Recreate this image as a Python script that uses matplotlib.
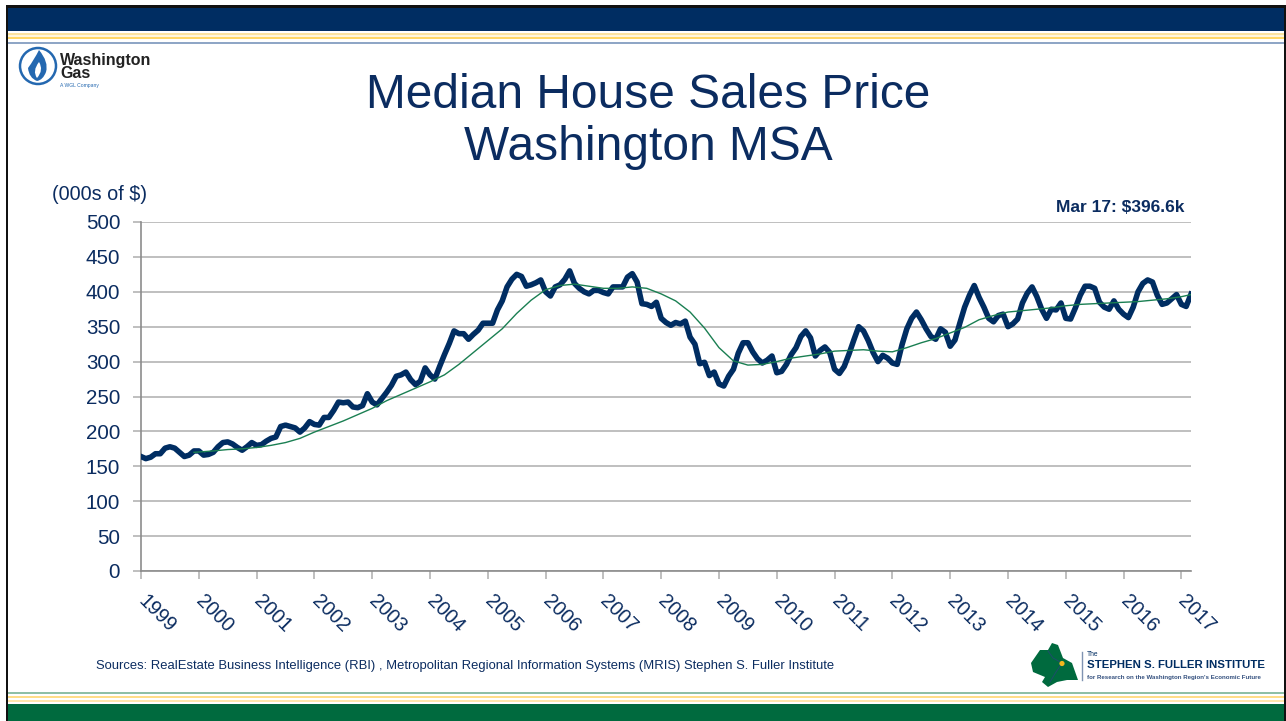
import matplotlib
matplotlib.use("Agg")
import matplotlib.pyplot as plt
import numpy as np
from matplotlib.patches import Rectangle, Polygon, Circle, PathPatch
from matplotlib.path import Path

W, H = 1286, 721
NAVY = "#002D62"
TEXT = "#0B2C60"
GREEN = "#006A3E"
plt.rcParams["font.family"] = ["Liberation Sans", "DejaVu Sans"]

years = [str(y) for y in range(1999, 2018)]
yticks = [0, 50, 100, 150, 200, 250, 300, 350, 400, 450, 500]

price_1999 = [164, 161, 163, 168, 168, 176, 178, 176, 170, 164, 166, 172]
price_2000 = [172, 166, 167, 170, 178, 184, 185, 182, 177, 173, 178, 184]
price_2001 = [180, 181, 186, 190, 192, 207, 209, 207, 205, 199, 205, 214]
price_2002 = [210, 209, 220, 220, 230, 242, 241, 242, 235, 234, 237, 254]
price_2003 = [242, 238, 247, 256, 266, 279, 281, 285, 274, 267, 272, 291]
price_2004 = [281, 275, 293, 310, 326, 344, 340, 340, 332, 339, 345, 355]
price_2005 = [355, 355, 374, 387, 407, 418, 425, 422, 408, 410, 413, 417]
price_2006 = [400, 394, 407, 410, 418, 430, 412, 405, 400, 397, 402, 402]
price_2007 = [399, 397, 407, 407, 407, 421, 426, 414, 383, 382, 379, 385]
price_2008 = [362, 356, 352, 356, 354, 358, 335, 325, 297, 299, 280, 285]
price_2009 = [268, 265, 279, 289, 312, 327, 327, 314, 304, 298, 302, 308]
price_2010 = [284, 286, 296, 310, 320, 336, 344, 334, 308, 316, 321, 313]
price_2011 = [289, 283, 293, 311, 331, 350, 344, 330, 313, 300, 309, 305]
price_2012 = [298, 296, 324, 347, 362, 371, 360, 347, 336, 332, 347, 342]
price_2013 = [322, 331, 355, 378, 395, 409, 392, 378, 362, 357, 366, 368]
price_2014 = [350, 354, 361, 384, 398, 407, 393, 375, 362, 375, 374, 384]
price_2015 = [362, 361, 377, 395, 408, 408, 405, 385, 378, 375, 387, 375]
price_2016 = [368, 363, 378, 400, 412, 417, 414, 395, 382, 384, 390, 396]
price_2017 = [382, 379, 396.6]
price = (price_1999 + price_2000 + price_2001 + price_2002 + price_2003 + price_2004
         + price_2005 + price_2006 + price_2007 + price_2008 + price_2009 + price_2010
         + price_2011 + price_2012 + price_2013 + price_2014 + price_2015 + price_2016 + price_2017)

trend_month = [11, 15, 18, 21, 24, 27, 30, 33, 36, 39, 42, 45, 48, 51, 54, 57, 60, 63, 66, 69, 72,
               75, 78, 81, 84, 87, 90, 93, 96, 99, 102, 105, 108, 111, 114, 117, 120, 123, 126, 129,
               132, 135, 138, 141, 144, 147, 150, 153, 156, 159, 162, 165, 168, 171, 174, 177, 180,
               183, 186, 189, 192, 195, 198, 201, 204, 207, 210, 213, 216, 218]
trend_value = [170, 172, 174, 175, 177, 180, 184, 190, 199, 207, 215, 224, 233, 244, 253, 262, 271,
               281, 296, 313, 330, 347, 369, 388, 403, 409, 411, 408, 405, 405, 407, 405, 397, 387,
               371, 348, 320, 301, 295, 296, 300, 305, 308, 311, 315, 316, 317, 315, 314, 320, 327,
               333, 341, 349, 360, 366, 371, 373, 375, 377, 380, 382, 383, 384, 385, 386, 388, 390,
               393, 396]

fig = plt.figure(figsize=(W / 100, H / 100), dpi=100, facecolor="white")

# Page furniture in pixel coordinates
bg = fig.add_axes([0, 0, 1, 1], zorder=0)
bg.set_xlim(0, W); bg.set_ylim(H, 0); bg.axis("off")
def rect(x0, y0, x1, y1, c):
    bg.add_patch(Rectangle((x0, y0), x1 - x0, y1 - y0, fc=c, ec="none"))
rect(6, 5, 1285, 8, "#111111")
rect(6, 5, 8, 721, "#111111")
rect(1284, 5, 1286, 721, "#111111")
rect(8, 8, 1284, 31, NAVY)
rect(8, 33, 1284, 35, "#FBE3A0")
rect(8, 35, 1284, 37, "#FFF6DC")
rect(8, 37, 1284, 39, "#FFD766")
rect(8, 39, 1284, 42, "#FFFFFF")
rect(8, 42, 1284, 44, "#8FA6C6")
rect(8, 692, 1284, 694, "#8FBFA6")
rect(8, 696, 1284, 698, "#FFDD88")
rect(8, 700, 1284, 702, "#FFE7AE")
rect(8, 704, 1284, 721, GREEN)

# Washington Gas logo
bg.add_patch(Circle((38, 66), 18, fc="white", ec="#2468B0", lw=1.8))
flame = Path([(39, 50), (49, 62), (46, 72), (43, 80), (37, 81), (29, 78), (28, 68), (34, 60), (39, 50)],
             [Path.MOVETO, Path.CURVE3, Path.CURVE3, Path.CURVE3, Path.CURVE3, Path.CURVE3, Path.CURVE3, Path.CURVE3, Path.CURVE3])
bg.add_patch(PathPatch(flame, fc="#2468B0", ec="none"))
inner = Path([(39, 62), (44, 70), (37, 78), (32, 71), (39, 62)],
             [Path.MOVETO, Path.CURVE3, Path.CURVE3, Path.CURVE3, Path.CURVE3])
bg.add_patch(PathPatch(inner, fc="white", ec="none"))
bg.text(60, 60, "Washington", fontsize=11.5, fontweight="bold", color="#222222", va="center")
bg.text(60, 74, "Gas", fontsize=11.5, fontweight="bold", color="#222222", va="center")
bg.text(60, 86, "A WGL Company", fontsize=3.6, color="#2468B0", va="center")

# Title and notes
bg.text(648, 96, "Median House Sales Price", fontsize=34.5, color=TEXT, ha="center", va="center")
bg.text(648, 148, "Washington MSA", fontsize=34.5, color=TEXT, ha="center", va="center")
bg.text(52, 194, "(000s of $)", fontsize=14.3, color=TEXT, va="center")
bg.text(1056, 207, "Mar 17: $396.6k", fontsize=12.5, fontweight="bold", color=TEXT, va="center")
bg.text(96, 666.5, "Sources: RealEstate Business Intelligence (RBI) , Metropolitan Regional Information Systems (MRIS) Stephen S. Fuller Institute",
        fontsize=9.4, color=TEXT, va="center")

# Institute logo
bg.add_patch(Polygon([(1031, 663), (1040, 650), (1048, 650), (1052, 643), (1058, 645), (1063, 658),
                      (1072, 663), (1078, 680), (1067, 680), (1057, 682), (1048, 687), (1042, 682),
                      (1045, 677), (1033, 672)], closed=True, fc=GREEN, ec="none"))
bg.plot([1048, 1053, 1062, 1056, 1050], [651, 658, 663, 672, 682], color="#1E4D6B", lw=0.7)
bg.add_patch(Circle((1062, 663.5), 2.6, fc="#F4B71E", ec="none", zorder=5))
bg.plot([1081.5, 1081.5], [652, 680], color="#7F93B2", lw=1)
bg.text(1087, 655, "The", fontsize=4.8, color=NAVY, va="center")
bg.text(1087, 665.5, "STEPHEN S. FULLER INSTITUTE", fontsize=8.2, fontweight="bold", color=NAVY, va="center")
bg.text(1087, 677, "for Research on the Washington Region's Economic Future", fontsize=4.45, fontweight="bold", color="#34507E", va="center")

# Chart: plot area 141..1191 px wide, 222..571 px tall
ax = fig.add_axes([141 / W, 1 - 571 / H, 1050 / W, 349 / H], zorder=1)
ax.patch.set_alpha(0)
months = np.arange(len(price))
ax.plot(trend_month, trend_value, color="#1A7F52", lw=1.0, zorder=5)
ax.plot(months, price, color=NAVY, lw=4.0, solid_joinstyle="round", zorder=4)
ax.set_xlim(0, len(price) - 1)
ax.set_ylim(0, 500)
ax.set_yticks(yticks)
ax.set_xticks(np.arange(len(years)) * 12)
ax.set_xticklabels(years)
ax.grid(axis="y", color="#B4B4B4", lw=1.2)
ax.set_axisbelow(True)
for s in ("top", "right"):
    ax.spines[s].set_visible(False)
for s in ("left", "bottom"):
    ax.spines[s].set_color("#8C8C8C")
    ax.spines[s].set_linewidth(1.2)
ax.tick_params(axis="both", color="#B4B4B4", width=1.2, length=5.5, labelcolor=TEXT)
ax.tick_params(axis="y", pad=9.5)
for t in ax.get_yticklabels():
    t.set_fontsize(14.8)
for t in ax.get_xticklabels():
    t.set_fontsize(14.3)
    t.set_rotation(-45); t.set_rotation_mode("anchor"); t.set_ha("left"); t.set_va("center")
ax.tick_params(axis="x", pad=14)

fig.savefig("out.png", dpi=100, facecolor="white")
